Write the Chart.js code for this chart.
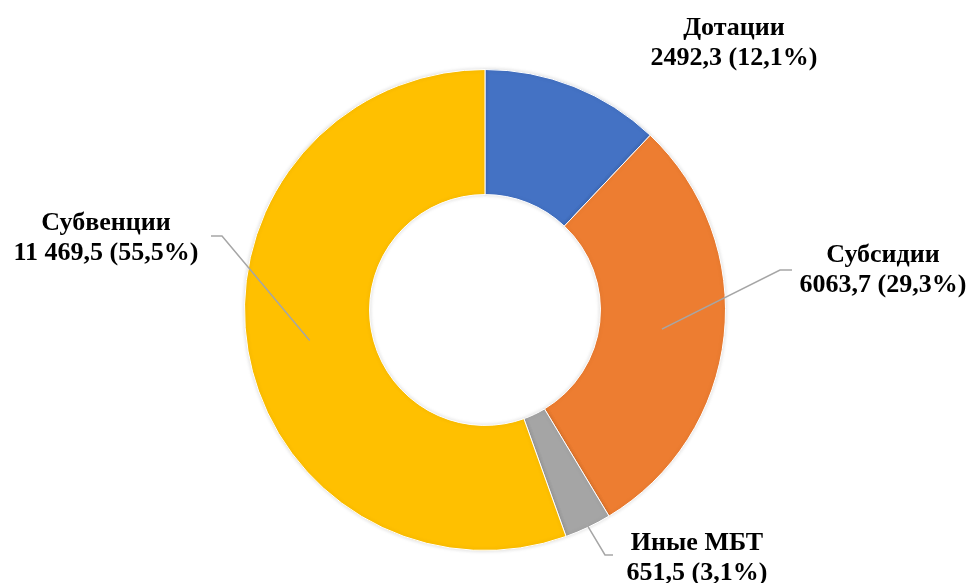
<!DOCTYPE html>
<html>
<head>
<meta charset="utf-8">
<script src="https://cdn.jsdelivr.net/npm/chart.js@4"></script>
<style>
  html, body { margin: 0; padding: 0; background: #fff; }
  #wrap { width: 972px; height: 583px; }
</style>
</head>
<body>
<div id="wrap"><canvas id="chart" width="972" height="583"></canvas></div>
<script>
const categories = ['Дотации', 'Субсидии', 'Иные МБТ', 'Субвенции'];
const values = [2492.3, 6063.7, 651.5, 11469.5];
const valueLabels = ['2492,3 (12,1%)', '6063,7 (29,3%)', '651,5 (3,1%)', '11 469,5 (55,5%)'];
const colors = ['#4472C4', '#ED7D31', '#A5A5A5', '#FFC000'];

// label placement: text centre, leader start (fraction of ring), elbow point
const labelPos = [
  { x: 734, y: 43, leader: null },
  { x: 883, y: 270, leader: { r: 0.5, elbow: [780, 270], end: [792, 270] } },
  { x: 697, y: 558, leader: { r: 0.97, elbow: [605, 555], end: [613, 555] } },
  { x: 106, y: 238, leader: { r: 0.5, elbow: [222, 236], end: [211, 236] } }
];

const labelPlugin = {
  id: 'labels',
  afterDatasetsDraw(chart) {
    const ctx = chart.ctx;
    const meta = chart.getDatasetMeta(0);
    meta.data.forEach((arc, i) => {
      const p = labelPos[i];
      const a = (arc.startAngle + arc.endAngle) / 2;
      if (p.leader) {
        const r = arc.innerRadius + (arc.outerRadius - arc.innerRadius) * p.leader.r;
        ctx.save();
        ctx.strokeStyle = '#A6A6A6';
        ctx.lineWidth = 1.5;
        ctx.beginPath();
        ctx.moveTo(arc.x + Math.cos(a) * r, arc.y + Math.sin(a) * r);
        ctx.lineTo(p.leader.elbow[0], p.leader.elbow[1]);
        ctx.lineTo(p.leader.end[0], p.leader.end[1]);
        ctx.stroke();
        ctx.restore();
      }
      ctx.save();
      ctx.fillStyle = '#000';
      ctx.font = 'bold 26px "Liberation Serif", "Times New Roman", serif';
      ctx.textAlign = 'center';
      ctx.textBaseline = 'middle';
      ctx.fillText(categories[i], p.x, p.y - 15);
      ctx.fillText(valueLabels[i], p.x, p.y + 15);
      ctx.restore();
    });
  }
};

const shadowPlugin = {
  id: 'shadow',
  beforeDatasetsDraw(chart) {
    chart.ctx.save();
    chart.ctx.shadowColor = 'rgba(0,0,0,0.15)';
    chart.ctx.shadowBlur = 4;
  },
  afterDatasetsDraw(chart) {
    chart.ctx.restore();
  }
};

new Chart(document.getElementById('chart').getContext('2d'), {
  type: 'doughnut',
  data: {
    labels: categories,
    datasets: [{
      data: values,
      backgroundColor: colors,
      borderColor: '#ffffff',
      borderWidth: 1
    }]
  },
  options: {
    responsive: false,
    animation: false,
    cutout: '48%',
    layout: { padding: { top: 69, bottom: 32, left: 244, right: 246 } },
    plugins: {
      legend: { display: false },
      tooltip: { enabled: false }
    }
  },
  plugins: [shadowPlugin, labelPlugin]
});
</script>
</body>
</html>
